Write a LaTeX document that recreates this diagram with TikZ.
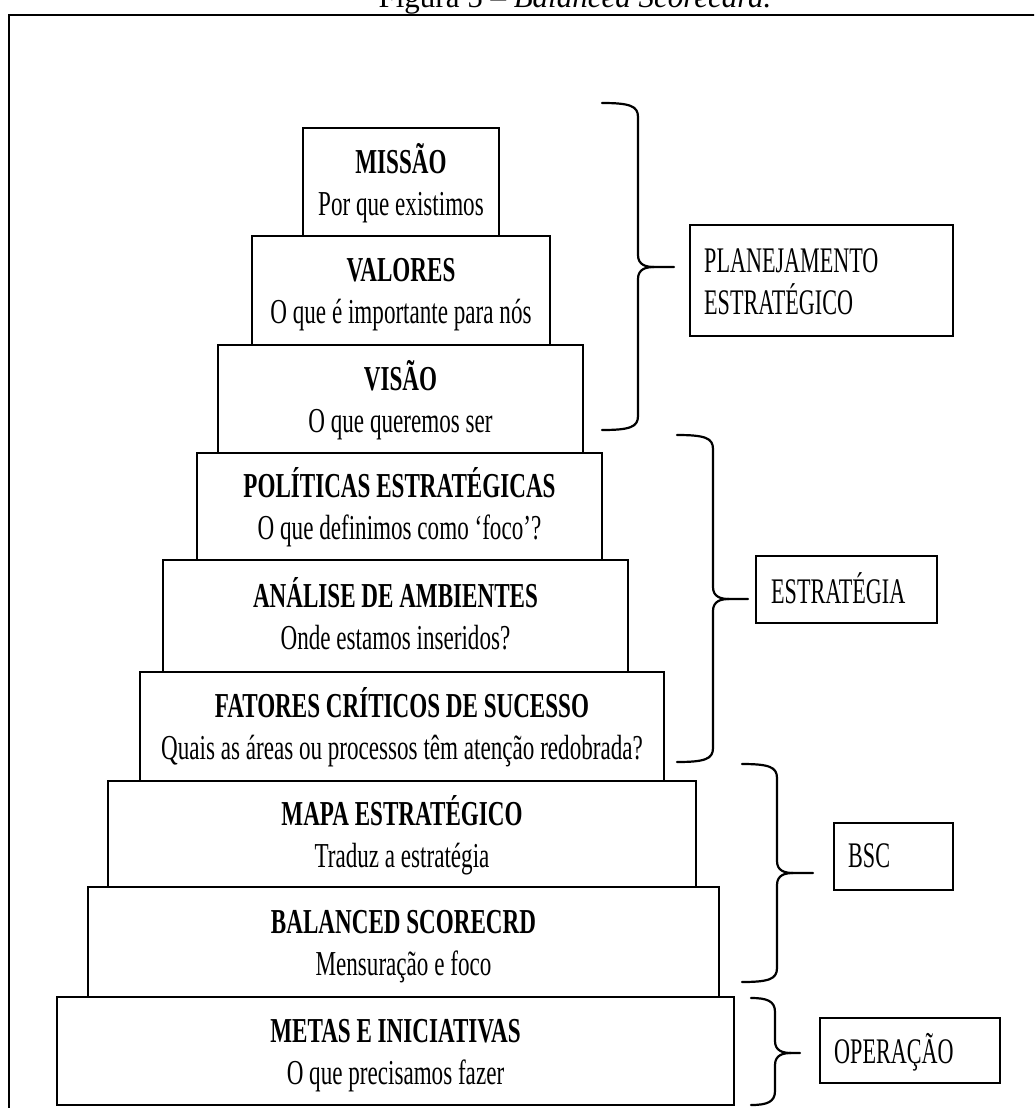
\documentclass[tikz,border=0pt]{standalone}
\usepackage{fontspec}
\setmainfont[FakeStretch=0.66]{Liberation Serif}
\newfontfamily\capfont{Liberation Serif}
\newfontfamily\labfont[FakeStretch=0.615]{Liberation Serif}
\newcommand\mytier[7]{%
  % #1 name, #2 cx, #3 cy, #4 w, #5 h, #6 bold, #7 regular
  \node[tierbox, minimum width=#4pt, minimum height=#5pt] (#1) at (#2,#3) {};
  \node[tiertitle] (#1-t) at ([yshift=9pt]#1.center) {#6};
  \node[tiersub] (#1-s) at ([yshift=-33pt]#1.center) {#7};
}
\newcommand\mybrace[6]{%
  % #1 x0, #2 x1, #3 x2, #4 ytop, #5 ymid, #6 ybot
  \draw[braceline] (#1,#4) .. controls ({#2-8},#4) and (#2,{#4+3}) .. (#2,{#4+14})
    -- (#2,{#5-12}) .. controls (#2,{#5-2}) and ({#2+8},#5) .. ({#2+16},#5) -- (#3,#5);
  \draw[braceline] ({#2+16},#5) .. controls ({#2+8},#5) and (#2,{#5+2}) .. (#2,{#5+12})
    -- (#2,{#6-14}) .. controls (#2,{#6-3}) and ({#2-8},#6) .. (#1,#6);
}
\begin{document}
\begin{tikzpicture}[x=1pt,y=-1pt,
  tierbox/.style={draw, line width=2.2pt, inner sep=0pt, rectangle},
  tiertitle/.style={anchor=base, inner sep=0pt, font=\bfseries\fontsize{35}{40}\selectfont},
  tiersub/.style={anchor=base, inner sep=0pt, font=\fontsize{35}{40}\selectfont},
  labbox/.style={draw, line width=2.2pt, inner sep=0pt, rectangle},
  labtext/.style={anchor=base west, inner sep=0pt, font=\labfont\fontsize{36}{40}\selectfont},
  braceline/.style={line width=2.2pt, line cap=round},
  frameline/.style={line width=2.6pt}]
\useasboundingbox (0,0) rectangle (1034,1108);
\clip (0,0) rectangle (1034,1108);

% caption (cut off at the top)
\node[anchor=base, inner sep=0pt, font=\capfont\fontsize{31}{36}\selectfont] (title) at (575,8) {Figura 5 – \textit{Balanced Scorecard.}};

% outer frame
\draw[frameline] (9,1120) -- (9,15) -- (1045,15);

% pyramid
\mytier{missao}{401}{182}{196}{108}{MISSÃO}{Por que existimos}
\mytier{valores}{401}{290.5}{298}{109}{VALORES}{O que é importante para nós}
\mytier{visao}{400.5}{399}{365}{108}{VISÃO}{O que queremos ser}
\mytier{politicas}{399.5}{506.5}{405}{107}{POLÍTICAS ESTRATÉGICAS}{O que definimos como ‘foco’?}
\mytier{analise}{395.5}{616}{465}{112}{ANÁLISE DE AMBIENTES}{Onde estamos inseridos?}
\mytier{fatores}{402}{726.5}{524}{109}{FATORES CRÍTICOS DE SUCESSO}{Quais as áreas ou processos têm atenção redobrada?}
\mytier{mapa}{402}{834}{588}{106}{MAPA ESTRATÉGICO}{Traduz a estratégia}
\mytier{balanced}{403.5}{942}{631}{110}{BALANCED SCORECRD}{Mensuração e foco}
\mytier{metas}{395.5}{1051}{677}{108}{METAS E INICIATIVAS}{O que precisamos fazer}

% braces
\mybrace{602}{638}{674}{103}{267}{430}
\mybrace{677}{713}{748}{435}{599}{762}
\mybrace{742}{777}{813}{764}{873}{982}
\mybrace{751}{775}{800}{998}{1053}{1105}

% label boxes
\node[labbox, minimum width=263pt, minimum height=111pt] (plan) at (821.5,280.5) {};
\node[labtext] (plan-1) at (704,272) {PLANEJAMENTO};
\node[labtext] (plan-2) at (704,314) {ESTRATÉGICO};

\node[labbox, minimum width=181pt, minimum height=67pt] (estr) at (846.5,589.5) {};
\node[labtext] (estr-1) at (771,603) {ESTRATÉGIA};

\node[labbox, minimum width=119pt, minimum height=67pt] (bsc) at (893.5,856.5) {};
\node[labtext] (bsc-1) at (848,867) {BSC};

\node[labbox, minimum width=180pt, minimum height=65pt] (oper) at (910,1050.5) {};
\node[labtext] (oper-1) at (834,1063) {OPERAÇÃO};
\end{tikzpicture}
\end{document}
